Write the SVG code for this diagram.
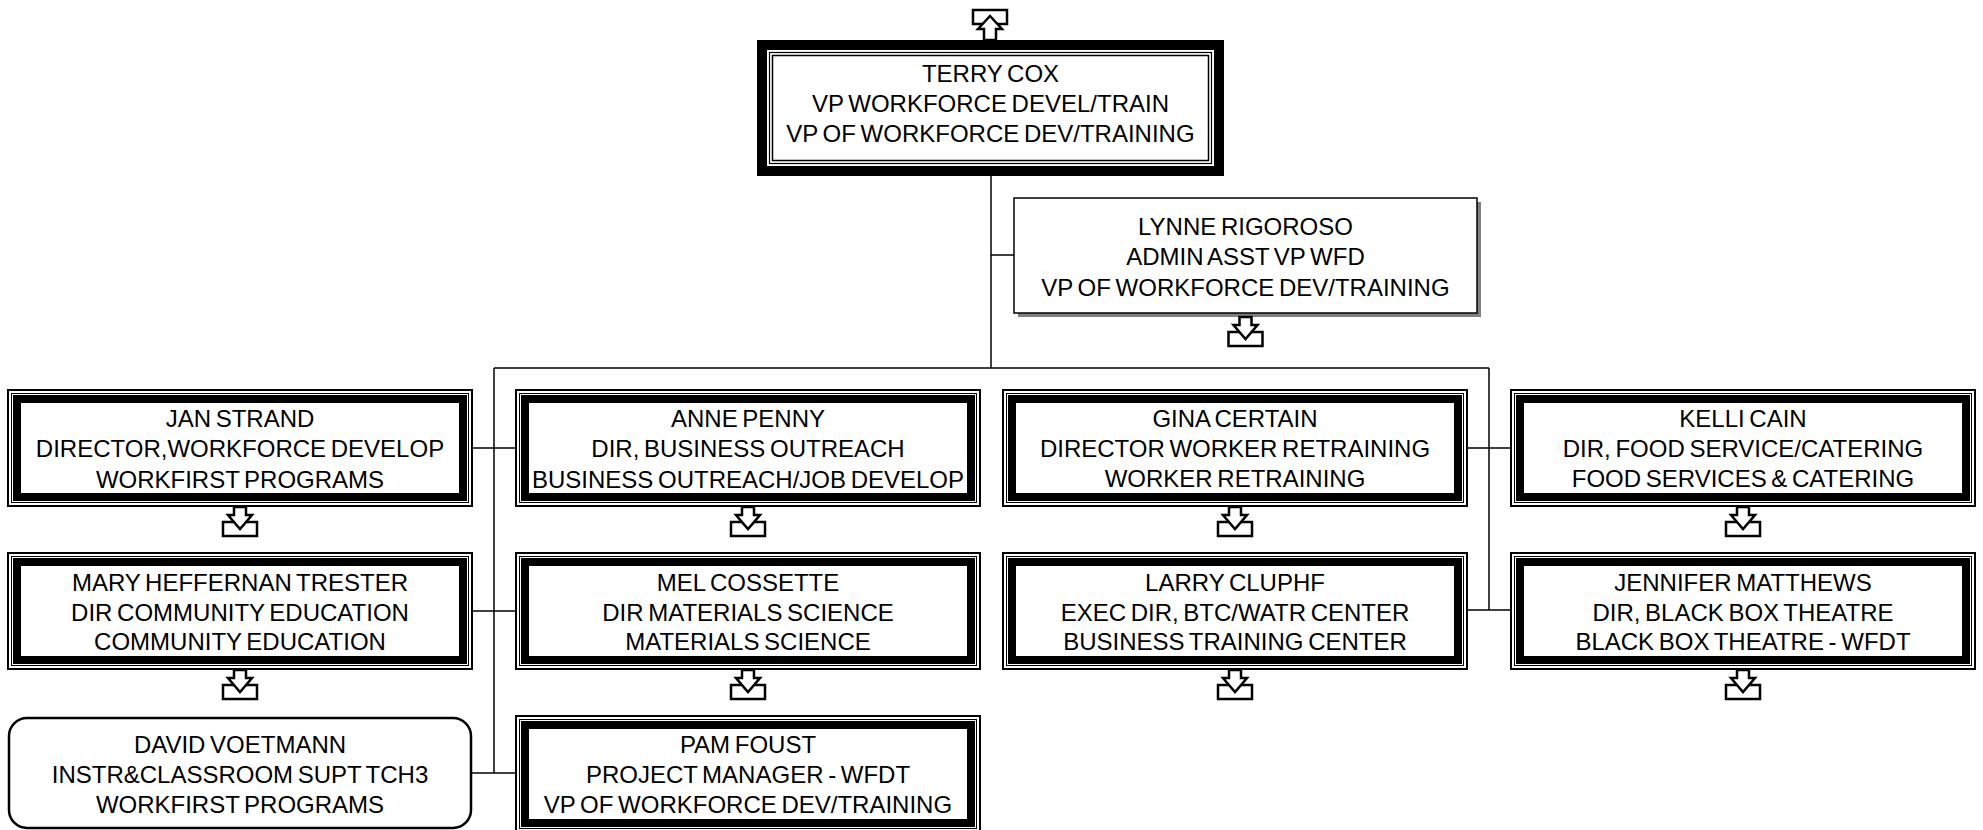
<svg xmlns="http://www.w3.org/2000/svg" xmlns:xlink="http://www.w3.org/1999/xlink" width="1983" height="830" viewBox="0 0 1983 830">
<style>
.t{font-family:"Liberation Sans",Arial,sans-serif;font-size:24px;word-spacing:-2px;fill:#000;text-anchor:middle}
.ln{stroke:#000;stroke-width:1.5;fill:none}
.ic{fill:#fff;stroke:#000;stroke-width:2.5}
</style>
<defs>
<g id="dbox">
<rect x="1" y="1" width="464" height="116" fill="#fff" stroke="#000" stroke-width="2"/>
<rect x="4.5" y="4.5" width="457" height="109" fill="none" stroke="#000" stroke-width="1"/>
<rect x="10" y="10" width="446" height="98" fill="none" stroke="#000" stroke-width="8"/>
</g>
<g id="dn">
<rect class="ic" x="-17" y="15" width="34" height="14"/>
<polygon class="ic" points="-6,0 6,0 6,8 12,8 0,22 -12,8 -6,8"/>
</g>
<g id="up">
<rect class="ic" x="-17" y="-30" width="34" height="14"/>
<polygon class="ic" points="-6,0 6,0 6,-11 12,-11 0,-24 -12,-11 -6,-11"/>
</g>
</defs>
<rect width="1983" height="830" fill="#fff"/>

<g id="connectors">
<line class="ln" x1="991" y1="176" x2="991" y2="368"/>
<line class="ln" x1="991" y1="255" x2="1014" y2="255"/>
<line class="ln" x1="494" y1="368" x2="1489" y2="368"/>
<line class="ln" x1="494" y1="368" x2="494" y2="773"/>
<line class="ln" x1="1489" y1="368" x2="1489" y2="610"/>
<line class="ln" x1="473" y1="448" x2="515" y2="448"/>
<line class="ln" x1="473" y1="611" x2="515" y2="611"/>
<line class="ln" x1="472" y1="773" x2="515" y2="773"/>
<line class="ln" x1="1468" y1="448" x2="1510" y2="448"/>
<line class="ln" x1="1468" y1="610" x2="1510" y2="610"/>
</g>

<g id="terry">
<use xlink:href="#up" x="990" y="40"/>
<rect x="762" y="45" width="457" height="126" fill="#fff" stroke="#000" stroke-width="10"/>
<rect x="769.5" y="52.5" width="442" height="111" fill="none" stroke="#000" stroke-width="1.2"/>
<rect x="772.5" y="55.5" width="436" height="105" fill="none" stroke="#000" stroke-width="1.5"/>
<text class="t" x="990.5" y="82">TERRY COX</text>
<text class="t" x="990.5" y="112">VP WORKFORCE DEVEL/TRAIN</text>
<text class="t" x="990.5" y="142">VP OF WORKFORCE DEV/TRAINING</text>
</g>

<g id="lynne">
<rect x="1018" y="202" width="463" height="115" fill="#808080"/>
<rect x="1014" y="198" width="463" height="115" fill="#fff" stroke="#000" stroke-width="1.5"/>
<text class="t" x="1245.5" y="235">LYNNE RIGOROSO</text>
<text class="t" x="1245.5" y="265">ADMIN ASST VP WFD</text>
<text class="t" x="1245.5" y="296">VP OF WORKFORCE DEV/TRAINING</text>
<use xlink:href="#dn" x="1245.5" y="317"/>
</g>

<g id="jan">
<use xlink:href="#dbox" x="7" y="389"/>
<text class="t" x="240" y="427">JAN STRAND</text>
<text class="t" x="240" y="457">DIRECTOR,WORKFORCE DEVELOP</text>
<text class="t" x="240" y="488">WORKFIRST PROGRAMS</text>
<use xlink:href="#dn" x="240" y="507"/>
</g>

<g id="anne">
<use xlink:href="#dbox" x="515" y="389"/>
<text class="t" x="748" y="427">ANNE PENNY</text>
<text class="t" x="748" y="457">DIR, BUSINESS OUTREACH</text>
<text class="t" x="748" y="488">BUSINESS OUTREACH/JOB DEVELOP</text>
<use xlink:href="#dn" x="748" y="507"/>
</g>

<g id="gina">
<use xlink:href="#dbox" x="1002" y="389"/>
<text class="t" x="1235" y="427">GINA CERTAIN</text>
<text class="t" x="1235" y="457">DIRECTOR WORKER RETRAINING</text>
<text class="t" x="1235" y="487">WORKER RETRAINING</text>
<use xlink:href="#dn" x="1235" y="507"/>
</g>

<g id="kelli">
<use xlink:href="#dbox" x="1510" y="389"/>
<text class="t" x="1743" y="427">KELLI CAIN</text>
<text class="t" x="1743" y="457">DIR, FOOD SERVICE/CATERING</text>
<text class="t" x="1743" y="487">FOOD SERVICES &amp; CATERING</text>
<use xlink:href="#dn" x="1743" y="507"/>
</g>

<g id="mary">
<use xlink:href="#dbox" x="7" y="552"/>
<text class="t" x="240" y="591">MARY HEFFERNAN TRESTER</text>
<text class="t" x="240" y="621">DIR COMMUNITY EDUCATION</text>
<text class="t" x="240" y="650">COMMUNITY EDUCATION</text>
<use xlink:href="#dn" x="240" y="670"/>
</g>

<g id="mel">
<use xlink:href="#dbox" x="515" y="552"/>
<text class="t" x="748" y="591">MEL COSSETTE</text>
<text class="t" x="748" y="621">DIR MATERIALS SCIENCE</text>
<text class="t" x="748" y="650">MATERIALS SCIENCE</text>
<use xlink:href="#dn" x="748" y="670"/>
</g>

<g id="larry">
<use xlink:href="#dbox" x="1002" y="552"/>
<text class="t" x="1235" y="591">LARRY CLUPHF</text>
<text class="t" x="1235" y="621">EXEC DIR, BTC/WATR CENTER</text>
<text class="t" x="1235" y="650">BUSINESS TRAINING CENTER</text>
<use xlink:href="#dn" x="1235" y="670"/>
</g>

<g id="jennifer">
<use xlink:href="#dbox" x="1510" y="552"/>
<text class="t" x="1743" y="591">JENNIFER MATTHEWS</text>
<text class="t" x="1743" y="621">DIR, BLACK BOX THEATRE</text>
<text class="t" x="1743" y="650">BLACK BOX THEATRE - WFDT</text>
<use xlink:href="#dn" x="1743" y="670"/>
</g>

<g id="david">
<rect x="9" y="718" width="462" height="110" rx="18" ry="18" fill="#fff" stroke="#000" stroke-width="2.5"/>
<text class="t" x="240" y="753">DAVID VOETMANN</text>
<text class="t" x="240" y="783">INSTR&amp;CLASSROOM SUPT TCH3</text>
<text class="t" x="240" y="813">WORKFIRST PROGRAMS</text>
</g>

<g id="pam">
<use xlink:href="#dbox" x="515" y="715"/>
<text class="t" x="748" y="753">PAM FOUST</text>
<text class="t" x="748" y="783">PROJECT MANAGER - WFDT</text>
<text class="t" x="748" y="813">VP OF WORKFORCE DEV/TRAINING</text>
</g>
</svg>
